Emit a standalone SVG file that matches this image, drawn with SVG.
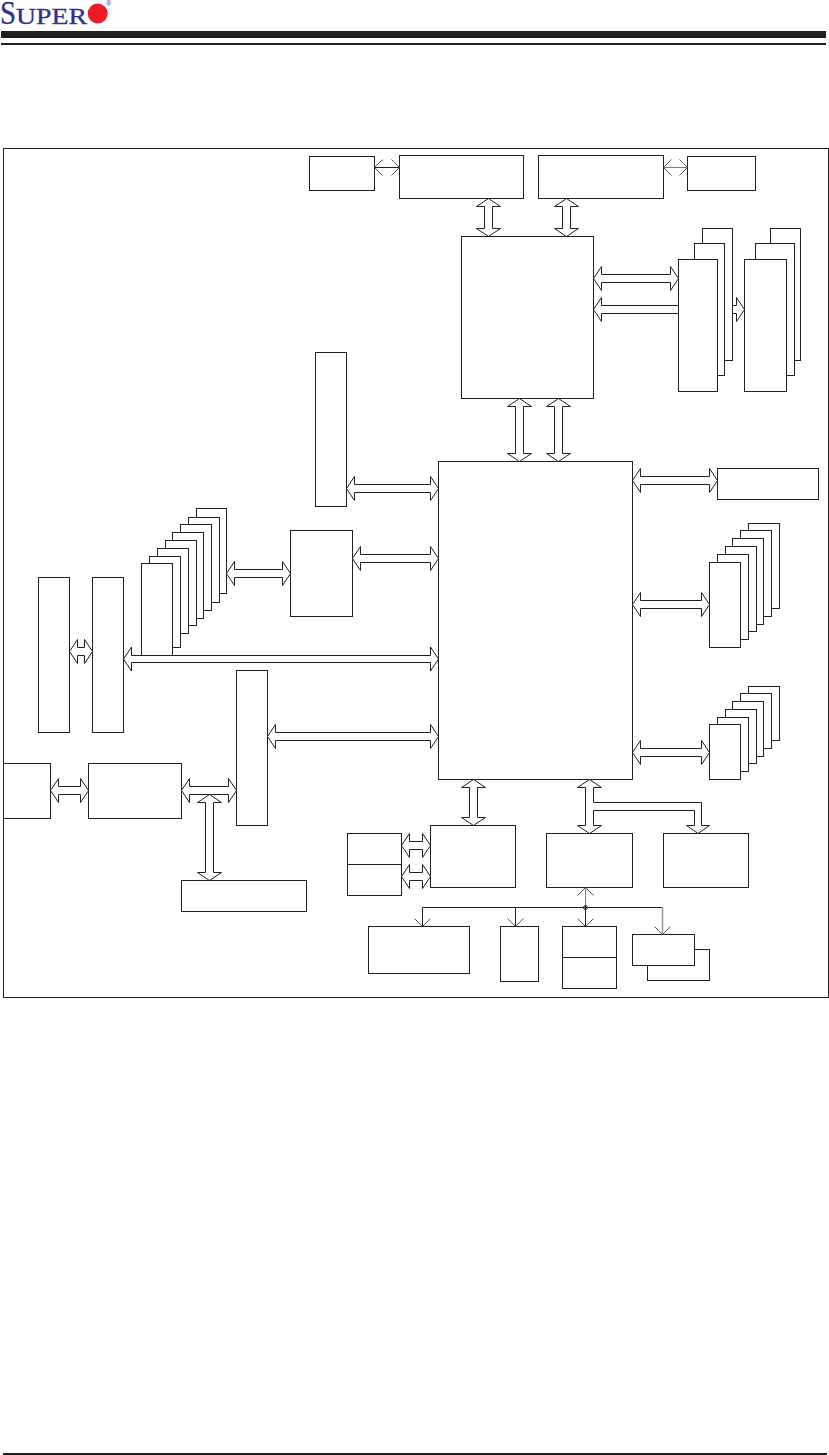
<svg xmlns="http://www.w3.org/2000/svg" width="829" height="1455" viewBox="0 0 829 1455">
<style>
rect.n{fill:#fff;stroke:#231f20;stroke-width:1}
path.b{fill:#fff;stroke:#231f20;stroke-width:1;stroke-linejoin:miter}
path.t{fill:none;stroke:#231f20;stroke-width:1}
.logo{font-family:"Liberation Serif",serif;fill:#2e3192;stroke:#2e3192;stroke-width:.3}
</style>
<defs>
<marker id="open" viewBox="-9 -9 10 18" refX="0" refY="0" markerWidth="10" markerHeight="18" markerUnits="userSpaceOnUse" orient="auto-start-reverse"><path d="M-8 -8L0 0L-8 8" fill="none" stroke="#555" stroke-width="1"/></marker>
</defs>
<rect width="829" height="1455" fill="#fff"/>
<g id="header">
<text class="logo" x="0" y="24" font-size="33" textLength="16" lengthAdjust="spacingAndGlyphs">S</text>
<text class="logo" x="16" y="24" font-size="23" textLength="71" lengthAdjust="spacingAndGlyphs">UPER</text>
<circle cx="97.7" cy="13.5" r="10" fill="#ed1c24"/>
<text x="106" y="6" font-size="7" font-family="Liberation Sans,sans-serif" fill="#2e3192">®</text>
<rect x="1" y="31" width="825" height="7" fill="#231f20"/>
<rect x="1" y="43" width="825" height="2" fill="#231f20"/>
</g>
<rect id="frame" x="3.5" y="148.5" width="825" height="849" fill="#fff" stroke="#231f20"/>
<g id="n-a"><rect class="n" x="309.5" y="156.5" width="65" height="34"/></g>
<g id="n-b"><rect class="n" x="399.5" y="155.5" width="124" height="43"/></g>
<g id="n-c"><rect class="n" x="538.5" y="155.5" width="125" height="43"/></g>
<g id="n-d"><rect class="n" x="687.5" y="156.5" width="68" height="34"/></g>
<g id="n-mch"><rect class="n" x="461.5" y="236.5" width="132" height="162"/></g>
<g id="n-mem1">
<rect class="n" x="702.5" y="228.5" width="30" height="132"/>
<rect class="n" x="694.5" y="243.5" width="30" height="132"/>
<rect class="n" x="678.5" y="259.5" width="39" height="132"/>
</g>
<g id="n-mem2">
<rect class="n" x="770.5" y="228.5" width="30" height="132"/>
<rect class="n" x="755.5" y="243.5" width="39" height="132"/>
<rect class="n" x="744.5" y="259.5" width="42" height="132"/>
</g>
<g id="n-e"><rect class="n" x="315.5" y="352.5" width="31" height="154"/></g>
<g id="n-ich"><rect class="n" x="438.5" y="461.5" width="194" height="318"/></g>
<g id="n-v"><rect class="n" x="717.5" y="468.5" width="101" height="31"/></g>
<g id="n-stack8">
<rect class="n" x="196.5" y="508.5" width="30" height="85"/>
<rect class="n" x="188.5" y="517.5" width="31" height="85"/>
<rect class="n" x="180.5" y="524.5" width="31" height="86"/>
<rect class="n" x="172.5" y="532.5" width="31" height="86"/>
<rect class="n" x="165.5" y="540.5" width="31" height="85"/>
<rect class="n" x="157.5" y="548.5" width="31" height="85"/>
<rect class="n" x="149.5" y="556.5" width="31" height="91"/>
<rect class="n" x="141.5" y="563.5" width="31" height="92"/>
</g>
<g id="n-g"><rect class="n" x="290.5" y="530.5" width="62" height="86"/></g>
<g id="n-h"><rect class="n" x="38.5" y="577.5" width="31" height="155"/></g>
<g id="n-i"><rect class="n" x="92.5" y="577.5" width="31" height="155"/></g>
<g id="n-j"><rect class="n" x="236.5" y="670.5" width="31" height="155"/></g>
<g id="n-k"><rect class="n" x="3.5" y="763.5" width="47" height="55"/></g>
<g id="n-l"><rect class="n" x="88.5" y="763.5" width="93" height="55"/></g>
<g id="n-m"><rect class="n" x="181.5" y="880.5" width="125" height="31"/></g>
<g id="n-n">
<rect class="n" x="347.5" y="833.5" width="54" height="31"/>
<rect class="n" x="347.5" y="864.5" width="54" height="31"/>
</g>
<g id="n-o"><rect class="n" x="430.5" y="825.5" width="85" height="62"/></g>
<g id="n-p"><rect class="n" x="546.5" y="833.5" width="86" height="54"/></g>
<g id="n-q"><rect class="n" x="663.5" y="833.5" width="85" height="54"/></g>
<g id="n-r"><rect class="n" x="368.5" y="926.5" width="101" height="47"/></g>
<g id="n-s"><rect class="n" x="500.5" y="926.5" width="38" height="55"/></g>
<g id="n-t">
<rect class="n" x="562.5" y="926.5" width="54" height="31"/>
<rect class="n" x="562.5" y="957.5" width="54" height="31"/>
</g>
<g id="n-u">
<rect class="n" x="647.5" y="949.5" width="62" height="31"/>
<rect class="n" x="632.5" y="934.5" width="62" height="31"/>
</g>
<g id="n-stack6a">
<rect class="n" x="748.5" y="523.5" width="31" height="85"/>
<rect class="n" x="740.5" y="530.5" width="31" height="86"/>
<rect class="n" x="732.5" y="538.5" width="31" height="86"/>
<rect class="n" x="725.5" y="546.5" width="31" height="85"/>
<rect class="n" x="717.5" y="554.5" width="31" height="85"/>
<rect class="n" x="709.5" y="562.5" width="31" height="85"/>
</g>
<g id="n-stack6b">
<rect class="n" x="748.5" y="686.5" width="31" height="54"/>
<rect class="n" x="740.5" y="693.5" width="31" height="55"/>
<rect class="n" x="732.5" y="701.5" width="31" height="55"/>
<rect class="n" x="725.5" y="709.5" width="31" height="54"/>
<rect class="n" x="717.5" y="717.5" width="31" height="54"/>
<rect class="n" x="709.5" y="724.5" width="31" height="55"/>
</g>
<g id="connectors">
<path class="t" d="M374.5 167.5H399.5" marker-start="url(#open)" marker-end="url(#open)"/>
<path class="t" d="M663.5 167.5H687.5" stroke-opacity=".6" marker-start="url(#open)" marker-end="url(#open)"/>
<path class="b" d="M488.5 198.5l12 8h-8V228.5h8l-12 8l-12 -8h8V206.5h-8z"/>
<path class="b" d="M566.5 198.5l12 8h-8V228.5h8l-12 8l-12 -8h8V206.5h-8z"/>
<path class="b" d="M593.5 278.5l8 -12v8H670.5v-8l8 12l-8 12v-8H601.5v8z"/>
<path class="b" d="M593.5 309.5l8 -12v8H678.5v8H601.5v8z"/>
<path class="b" d="M732.5 305.5h4v-8l8 12l-8 12v-8h-4z"/>
<path class="b" d="M519.5 398.5l12 8h-8V453.5h8l-12 8l-12 -8h8V406.5h-8z"/>
<path class="b" d="M558.5 398.5l12 8h-8V453.5h8l-12 8l-12 -8h8V406.5h-8z"/>
<path class="b" d="M346.5 488.5l8 -12v8H430.5v-8l8 12l-8 12v-8H354.5v8z"/>
<path class="b" d="M352.5 558.5l8 -12v8H430.5v-8l8 12l-8 12v-8H360.5v8z"/>
<path class="b" d="M226.5 573.5l8 -12v8H282.5v-8l8 12l-8 12v-8H234.5v8z"/>
<path class="b" d="M123.5 659l8 -12v8.5H430.5v-8.5l8 12l-8 12v-8.5H131.5v8.5z"/>
<path class="b" d="M69.5 651.5l8 -12v8H84.5v-8l8 12l-8 12v-8H77.5v8z"/>
<path class="b" d="M267.5 736.5l8 -12v8H430.5v-8l8 12l-8 12v-8H275.5v8z"/>
<path class="b" d="M50.5 790.5l8 -12v8H80.5v-8l8 12l-8 12v-8H58.5v8z"/>
<path class="b" d="M181.5 790.5l8 -12v8H228.5v-8l8 12l-8 12v-8H189.5v8z"/>
<path class="b" d="M209.5 794.5l12 8h-8V872.5h8l-12 8l-12 -8h8V802.5h-8z"/>
<path class="b" d="M632.5 480.5l8 -12v8H709.5v-8l8 12l-8 12v-8H640.5v8z"/>
<path class="b" d="M632.5 604.5l8 -12v8H701.5v-8l8 12l-8 12v-8H640.5v8z"/>
<path class="b" d="M632.5 752.5l8 -12v8H701.5v-8l8 12l-8 12v-8H640.5v8z"/>
<path class="b" d="M401.5 845.5l8 -12v8H422.5v-8l8 12l-8 12v-8H409.5v8z"/>
<path class="b" d="M401.5 876.5l8 -12v8H422.5v-8l8 12l-8 12v-8H409.5v8z"/>
<path class="b" d="M473.5 779.5l12 8h-8V817.5h8l-12 8l-12 -8h8V787.5h-8z"/>
<path class="b" d="M589.5 779.5l12 8h-8V802.5H701.5V825.5h8L698 833.5L686.5 825.5h8V810.5H593.5V825.5h8l-12 8l-12 -8h8V787.5h-8z"/>
<path class="t" d="M422.5 926.5V907.5H662.5" marker-start="url(#open)"/>
<path class="t" d="M515.5 907.5V926.5" marker-end="url(#open)"/>
<path class="t" d="M585.5 907.5V926.5" marker-end="url(#open)"/>
<path class="t" d="M585.5 907.5V887.5" stroke-opacity=".6" marker-end="url(#open)"/>
<path class="t" d="M662.5 907.5V934.5" style="stroke:#999;stroke-width:1.6" marker-end="url(#open)"/>
<circle cx="585.5" cy="907.5" r="2" fill="#fff" stroke="#231f20"/>
<path class="t" d="M585.5 905.5v4M583.5 907.5h4"/>
</g>
<rect id="footer-rule" x="3" y="1453" width="824" height="2" fill="#231f20"/>
</svg>
